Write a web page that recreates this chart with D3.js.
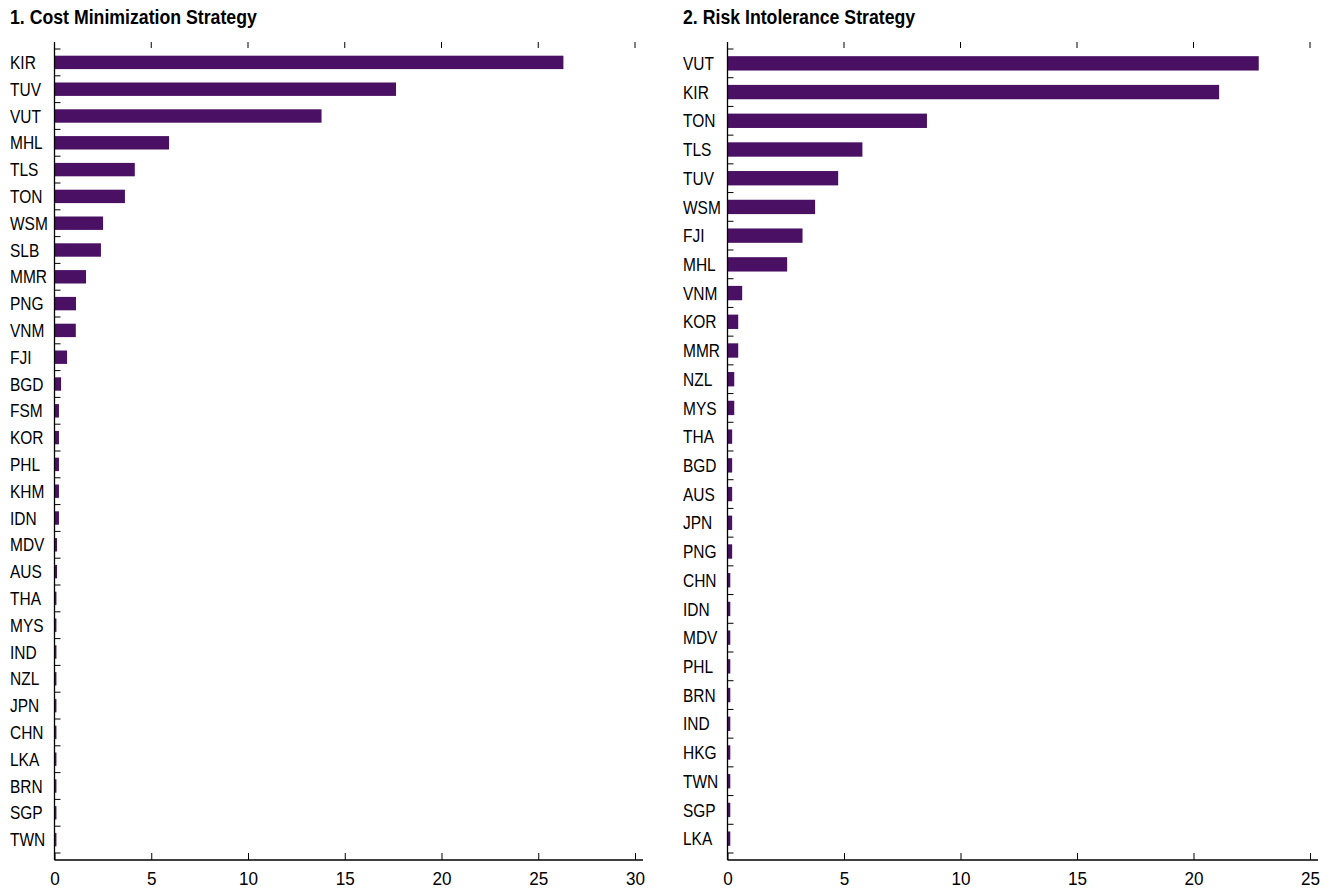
<!DOCTYPE html>
<html>
<head>
<meta charset="utf-8">
<script src="https://cdn.jsdelivr.net/npm/d3@7"></script>
<style>
  html, body { margin: 0; padding: 0; background: #fff; }
  svg { display: block; }
  text { font-family: "Liberation Sans", Arial, Helvetica, sans-serif; fill: #000; }
</style>
</head>
<body>
<svg id="chart" width="1330" height="892"></svg>
<script>
// Strategy 1: cost minimization, countries sorted by value
const costCountries = ["KIR","TUV","VUT","MHL","TLS","TON","WSM","SLB","MMR","PNG","VNM","FJI","BGD","FSM","KOR","PHL","KHM","IDN","MDV","AUS","THA","MYS","IND","NZL","JPN","CHN","LKA","BRN","SGP","TWN"];
const costValues = [26.3,17.65,13.8,5.92,4.15,3.64,2.51,2.4,1.63,1.11,1.1,0.65,0.34,0.23,0.23,0.23,0.23,0.23,0.13,0.13,0.1,0.1,0.1,0.1,0.1,0.1,0.1,0.1,0.1,0.1];
const costTicks = [0,5,10,15,20,25,30];

// Strategy 2: risk intolerance, countries sorted by value
const riskCountries = ["VUT","KIR","TON","TLS","TUV","WSM","FJI","MHL","VNM","KOR","MMR","NZL","MYS","THA","BGD","AUS","JPN","PNG","CHN","IDN","MDV","PHL","BRN","IND","HKG","TWN","SGP","LKA"];
const riskValues = [22.8,21.1,8.56,5.79,4.75,3.76,3.22,2.56,0.63,0.46,0.46,0.29,0.29,0.2,0.2,0.2,0.2,0.2,0.12,0.12,0.12,0.12,0.12,0.12,0.12,0.12,0.12,0.12];
const riskTicks = [0,5,10,15,20,25];

const barColor = "#4a1063";
const svg = d3.select("#chart");

// squeeze text horizontally to get a condensed look
function condense(sel, factor) {
  sel.each(function () {
    const w = this.getComputedTextLength();
    d3.select(this).attr("textLength", w * factor).attr("lengthAdjust", "spacingAndGlyphs");
  });
}

function panel(opts) {
  const { title, cats, vals, ticks, x0, x1, titleX } = opts;
  const g = svg.append("g");
  const top = 42, bandTop = 49, bandBottom = 853, bottom = 860;

  const x = d3.scaleLinear().domain([ticks[0], ticks[ticks.length - 1]]).range([x0, x1]);
  const y = d3.scaleBand().domain(cats).range([bandTop, bandBottom])
    .paddingInner(0.5).paddingOuter(0.25);
  const step = y.step();

  // title
  g.append("text")
    .attr("x", titleX).attr("y", 24)
    .attr("font-size", 20).attr("font-weight", "bold")
    .text(title)
    .call(condense, 0.885);

  // bars
  g.selectAll("rect.bar").data(cats).join("rect")
    .attr("class", "bar")
    .attr("x", x(0))
    .attr("y", d => y(d))
    .attr("width", (d, i) => x(vals[i]) - x(0))
    .attr("height", y.bandwidth())
    .attr("fill", barColor);

  // bottom axis
  const xAxis = d3.axisBottom(x).tickValues(ticks).tickSize(-7).tickPadding(12)
    .tickFormat(d3.format("d"));
  const ax = g.append("g").attr("transform", `translate(0,${bottom})`).call(xAxis);
  ax.select(".domain").remove();
  ax.selectAll(".tick line").attr("stroke", "#000");
  ax.selectAll(".tick text").attr("font-size", 18).attr("font-family", null).attr("fill", "#000")
    .call(condense, 0.95);
  g.append("line").attr("x1", x0).attr("x2", x1 + 8).attr("y1", bottom).attr("y2", bottom)
    .attr("stroke", "#000").attr("stroke-width", 1.3);

  // top tick marks (no axis line)
  g.selectAll("line.toptick").data(ticks.slice(1)).join("line")
    .attr("class", "toptick")
    .attr("x1", d => x(d)).attr("x2", d => x(d))
    .attr("y1", top).attr("y2", top + 6)
    .attr("stroke", "#000");

  // left axis line
  g.append("line").attr("x1", x0).attr("x2", x0).attr("y1", top).attr("y2", bottom)
    .attr("stroke", "#000").attr("stroke-width", 1.3);

  // category boundary ticks
  const bounds = d3.range(cats.length + 1).map(i => bandTop + i * step);
  g.selectAll("line.ytick").data(bounds).join("line")
    .attr("class", "ytick")
    .attr("x1", x0).attr("x2", x0 + 6)
    .attr("y1", d => d).attr("y2", d => d)
    .attr("stroke", "#000");

  // category labels
  g.selectAll("text.cat").data(cats).join("text")
    .attr("class", "cat")
    .attr("x", x0 - 44.5)
    .attr("y", d => y(d) + y.bandwidth() / 2)
    .attr("dy", "0.37em")
    .attr("font-size", 18)
    .text(d => d)
    .call(condense, 0.86);
}

panel({ title: "1. Cost Minimization Strategy", cats: costCountries, vals: costValues,
        ticks: costTicks, x0: 54.5, x1: 635, titleX: 10 });
panel({ title: "2. Risk Intolerance Strategy", cats: riskCountries, vals: riskValues,
        ticks: riskTicks, x0: 727.5, x1: 1310, titleX: 683 });
</script>
</body>
</html>
